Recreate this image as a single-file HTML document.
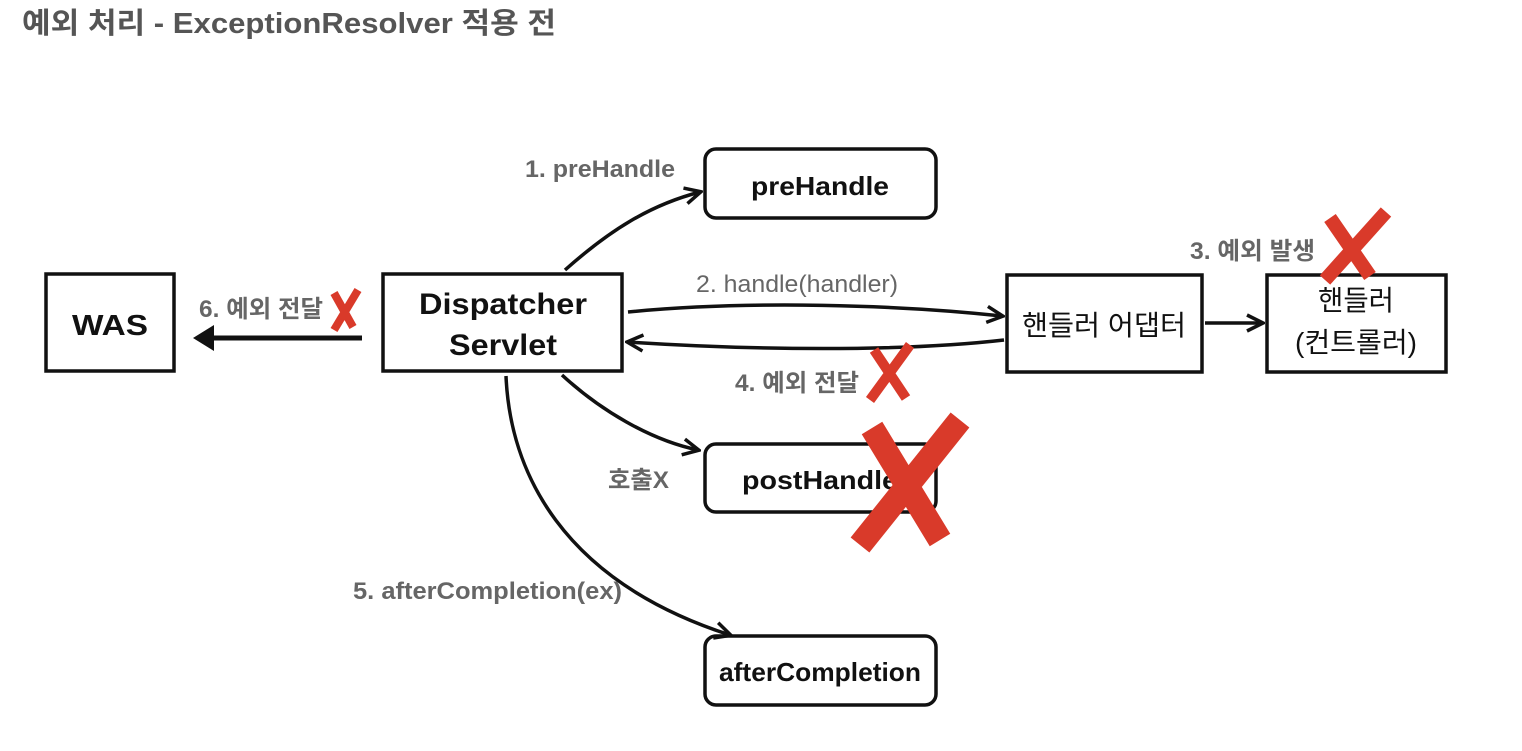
<!DOCTYPE html>
<html><head><meta charset="utf-8"><style>
body{margin:0;background:#fff;}
svg text{font-family:"Liberation Sans","Noto Sans CJK KR",sans-serif;}
</style></head><body>
<svg width="1522" height="746" viewBox="0 0 1522 746" xmlns="http://www.w3.org/2000/svg">
<defs>
<marker id="a" markerWidth="20" markerHeight="20" refX="17" refY="10" orient="auto" markerUnits="userSpaceOnUse">
<path d="M2,2 L18,10 L2,18" fill="none" stroke="#111" stroke-width="3.5"/>
</marker>
</defs>
<text x="22" y="33" font-size="29" font-weight="bold" fill="#555" textLength="534" lengthAdjust="spacingAndGlyphs">예외 처리 - ExceptionResolver 적용 전</text>

<g fill="none" stroke="#111" stroke-width="3.5">
<rect x="46" y="274" width="128" height="97"/>
<rect x="383" y="274" width="239" height="97"/>
<rect x="705" y="149" width="231" height="69" rx="11"/>
<rect x="705" y="444" width="231" height="68" rx="11"/>
<rect x="705" y="636" width="231" height="69" rx="11"/>
<rect x="1007" y="275" width="195" height="97"/>
<rect x="1267" y="275" width="179" height="97"/>
</g>

<g fill="none" stroke="#111" stroke-width="3.5">
<path d="M565,270 C610,230 650,205 700,192" marker-end="url(#a)"/>
<path d="M628,312 C750,300 900,305 1002,316" marker-end="url(#a)"/>
<path d="M1004,340 C900,352 750,350 628,342" marker-end="url(#a)"/>
<path d="M1205,323 L1262,323" marker-end="url(#a)"/>
<path d="M562,375 C600,410 650,440 698,450" marker-end="url(#a)"/>
<path d="M506,376 C510,470 560,580 730,635" marker-end="url(#a)"/>
</g>
<line x1="362" y1="338" x2="210" y2="338" stroke="#111" stroke-width="5"/>
<path d="M193,338 L214,325 L214,351 Z" fill="#111"/>

<g font-weight="bold" text-anchor="middle" fill="#111">
<text x="110" y="335" font-size="29" textLength="76" lengthAdjust="spacingAndGlyphs">WAS</text>
<text x="503" y="314" font-size="30" textLength="168" lengthAdjust="spacingAndGlyphs">Dispatcher</text>
<text x="503" y="355" font-size="30" textLength="108" lengthAdjust="spacingAndGlyphs">Servlet</text>
<text x="820" y="195" font-size="26" textLength="138" lengthAdjust="spacingAndGlyphs">preHandle</text>
<text x="820" y="489" font-size="26" textLength="156" lengthAdjust="spacingAndGlyphs">postHandle</text>
<text x="820" y="681" font-size="26" textLength="202" lengthAdjust="spacingAndGlyphs">afterCompletion</text>
</g>
<g text-anchor="middle" fill="#111" font-size="28">
<text x="1104" y="335" textLength="164" lengthAdjust="spacingAndGlyphs">핸들러 어댑터</text>
<text x="1356" y="310" textLength="76" lengthAdjust="spacingAndGlyphs">핸들러</text>
<text x="1356" y="352" textLength="122" lengthAdjust="spacingAndGlyphs">(컨트롤러)</text>
</g>
<g font-size="24" fill="#666" font-weight="bold">
<text x="525" y="177" textLength="150" lengthAdjust="spacingAndGlyphs">1. preHandle</text>
<text x="696" y="292" font-weight="normal" textLength="202" lengthAdjust="spacingAndGlyphs">2. handle(handler)</text>
<text x="1190" y="259" textLength="125" lengthAdjust="spacingAndGlyphs">3. 예외 발생</text>
<text x="735" y="391" textLength="124" lengthAdjust="spacingAndGlyphs">4. 예외 전달</text>
<text x="353" y="599" textLength="269" lengthAdjust="spacingAndGlyphs">5. afterCompletion(ex)</text>
<text x="199" y="317" textLength="124" lengthAdjust="spacingAndGlyphs">6. 예외 전달</text>
<text x="608" y="488" textLength="61" lengthAdjust="spacingAndGlyphs">호출X</text>
</g>

<g stroke="#d93a2a" stroke-linecap="butt" fill="none">
<path d="M334,293 L353,327 M358,290 L334,330" stroke-width="8"/>
<path d="M874,350 L906,398 M910,345 L870,400" stroke-width="10"/>
<path d="M1330,218 L1370,276 M1386,212 L1325,280" stroke-width="14"/>
<path d="M872,428 L940,540 M960,420 L860,545" stroke-width="24"/>
</g>
</svg>
</body></html>
